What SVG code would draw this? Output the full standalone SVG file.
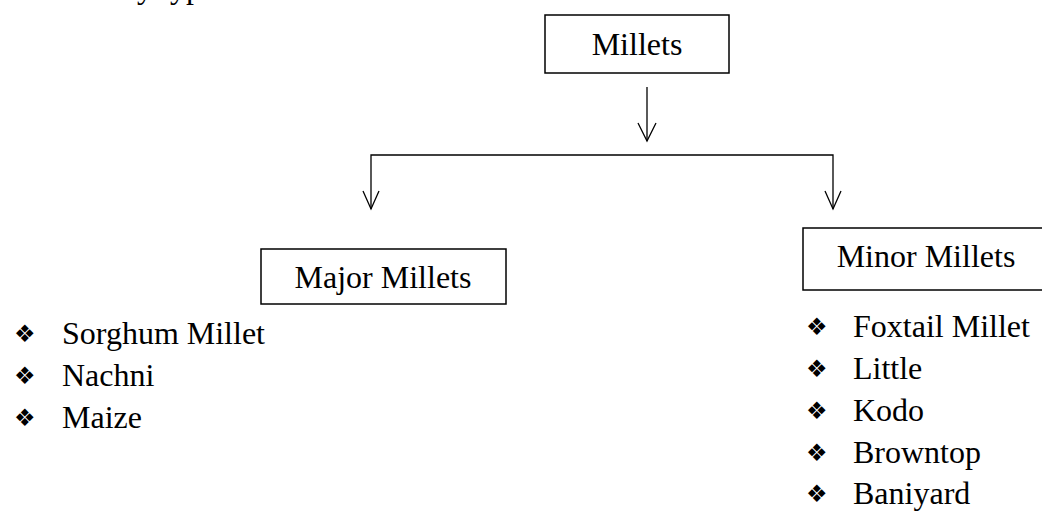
<svg xmlns="http://www.w3.org/2000/svg" width="1042" height="512" viewBox="0 0 1042 512">
<style>
.t{font-family:"Liberation Serif","Times New Roman",serif;font-size:32px;fill:#000}
.b{font-family:"DejaVu Sans",sans-serif;font-size:24px;fill:#000}
.box{fill:#fff;stroke:#000;stroke-width:1.5}
.ln{fill:none;stroke:#000;stroke-width:1.3}
</style>
<rect width="1042" height="512" fill="#fff"/>
<text class="t" x="137" y="-2">y types</text>
<g id="connectors">
<line class="ln" x1="647" y1="87" x2="647" y2="141"/>
<polyline class="ln" points="638,123 647,141 656,123"/>
<polyline class="ln" points="371,209 371,155 833,155 833,209"/>
<polyline class="ln" points="363,191 371,209 379,191"/>
<polyline class="ln" points="825,191 833,209 841,191"/>
</g>
<g id="millets">
<rect class="box" x="545" y="15" width="184" height="58"/>
<text class="t" x="637" y="55" text-anchor="middle">Millets</text>
</g>
<g id="major">
<rect class="box" x="261" y="249" width="245" height="55"/>
<text class="t" x="383" y="288" text-anchor="middle">Major Millets</text>
</g>
<g id="minor">
<rect class="box" x="803" y="228" width="260" height="62"/>
<text class="t" x="926" y="267" text-anchor="middle">Minor Millets</text>
</g>
<g id="major-list">
<text class="b" x="14" y="342">❖</text><text class="t" x="62" y="344">Sorghum Millet</text>
<text class="b" x="14" y="384">❖</text><text class="t" x="62" y="386">Nachni</text>
<text class="b" x="14" y="426">❖</text><text class="t" x="62" y="428">Maize</text>
</g>
<g id="minor-list">
<text class="b" x="806" y="335">❖</text><text class="t" x="853" y="337">Foxtail Millet</text>
<text class="b" x="806" y="377">❖</text><text class="t" x="853" y="379">Little</text>
<text class="b" x="806" y="419">❖</text><text class="t" x="853" y="421">Kodo</text>
<text class="b" x="806" y="461">❖</text><text class="t" x="853" y="463">Browntop</text>
<text class="b" x="806" y="502">❖</text><text class="t" x="853" y="504">Baniyard</text>
</g>
</svg>
